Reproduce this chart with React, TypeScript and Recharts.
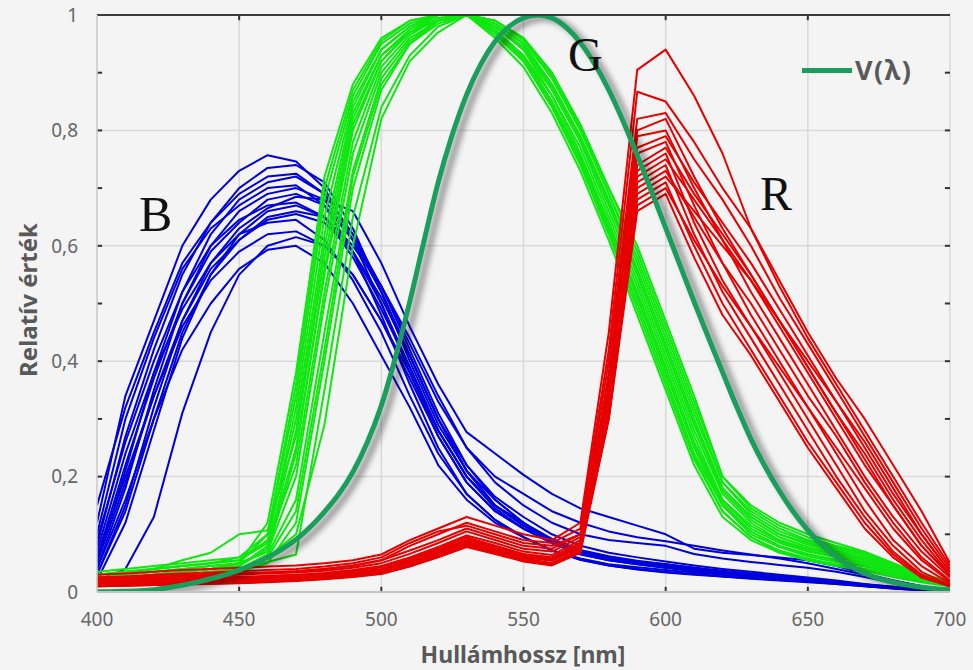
import React from 'react';
import { LineChart, Line, XAxis, YAxis, CartesianGrid, ReferenceLine } from 'recharts';

const WL = [400,410,420,430,440,450,460,470,480,490,500,510,520,530,540,550,560,570,580,590,600,610,620,630,640,650,660,670,680,690,700];

const V_WL = [400,405,410,415,420,425,430,435,440,445,450,455,460,465,470,475,480,485,490,495,500,505,510,515,520,525,530,535,540,545,550,555,560,565,570,575,580,585,590,595,600,605,610,615,620,625,630,635,640,645,650,655,660,665,670,675,680,685,690,695,700];
const V_LAMBDA = [0.0004,0.00064,0.0012,0.00218,0.004,0.0073,0.0116,0.01684,0.023,0.0298,0.038,0.048,0.06,0.0739,0.09098,0.1126,0.13902,0.1693,0.20802,0.2586,0.323,0.4073,0.503,0.6082,0.71,0.7932,0.862,0.91485,0.954,0.9803,0.99495,1.0,0.995,0.9786,0.952,0.9154,0.87,0.8163,0.757,0.6949,0.631,0.5668,0.503,0.4412,0.381,0.321,0.265,0.217,0.175,0.1382,0.107,0.0816,0.061,0.04458,0.032,0.0232,0.017,0.01192,0.00821,0.005723,0.004102];

const BLUE: number[][] = [
  [0.12,0.34,0.47,0.60,0.68,0.73,0.757,0.746,0.70,0.61,0.50,0.38,0.27,0.19,0.14,0.11,0.085,0.068,0.057,0.05,0.045,0.04,0.035,0.03,0.026,0.022,0.017,0.012,0.008,0.005,0.003],
  [0.08,0.27,0.42,0.55,0.64,0.70,0.735,0.74,0.71,0.63,0.52,0.40,0.29,0.21,0.15,0.12,0.09,0.07,0.06,0.052,0.046,0.04,0.036,0.031,0.027,0.023,0.018,0.013,0.009,0.005,0.003],
  [0.05,0.21,0.38,0.52,0.62,0.68,0.71,0.72,0.69,0.62,0.53,0.42,0.31,0.22,0.16,0.12,0.09,0.07,0.06,0.05,0.045,0.04,0.035,0.03,0.026,0.022,0.017,0.012,0.008,0.004,0.003],
  [0.10,0.30,0.44,0.56,0.63,0.67,0.70,0.705,0.67,0.59,0.48,0.36,0.25,0.17,0.125,0.095,0.072,0.058,0.048,0.043,0.038,0.034,0.03,0.026,0.022,0.019,0.015,0.011,0.007,0.004,0.002],
  [0.04,0.18,0.35,0.50,0.60,0.66,0.69,0.70,0.68,0.61,0.52,0.41,0.30,0.21,0.15,0.115,0.085,0.065,0.055,0.048,0.042,0.037,0.032,0.028,0.024,0.02,0.016,0.011,0.007,0.004,0.002],
  [0.06,0.22,0.37,0.50,0.59,0.64,0.68,0.69,0.67,0.61,0.53,0.43,0.33,0.25,0.20,0.17,0.14,0.12,0.105,0.095,0.088,0.08,0.072,0.065,0.058,0.05,0.04,0.03,0.02,0.01,0.004],
  [0.03,0.15,0.32,0.47,0.57,0.63,0.665,0.685,0.68,0.66,0.57,0.46,0.36,0.277,0.24,0.203,0.17,0.145,0.13,0.115,0.10,0.075,0.068,0.064,0.06,0.055,0.045,0.032,0.02,0.01,0.004],
  [0.09,0.26,0.40,0.52,0.60,0.645,0.67,0.675,0.65,0.58,0.49,0.39,0.28,0.20,0.15,0.115,0.09,0.072,0.06,0.053,0.048,0.042,0.037,0.032,0.027,0.023,0.018,0.013,0.008,0.004,0.002],
  [0.03,0.14,0.30,0.45,0.55,0.61,0.645,0.655,0.64,0.59,0.51,0.41,0.30,0.21,0.16,0.12,0.092,0.073,0.062,0.054,0.048,0.042,0.036,0.031,0.027,0.023,0.018,0.012,0.008,0.004,0.002],
  [0.07,0.24,0.38,0.49,0.57,0.62,0.64,0.645,0.61,0.54,0.45,0.34,0.24,0.17,0.125,0.095,0.072,0.056,0.046,0.039,0.034,0.03,0.027,0.023,0.02,0.017,0.014,0.01,0.006,0.003,0.002],
  [0.05,0.19,0.34,0.46,0.54,0.59,0.62,0.625,0.60,0.55,0.47,0.38,0.28,0.20,0.15,0.115,0.09,0.07,0.058,0.05,0.044,0.038,0.033,0.028,0.024,0.02,0.016,0.011,0.007,0.004,0.002],
  [0.04,0.16,0.30,0.42,0.50,0.56,0.593,0.60,0.57,0.50,0.41,0.32,0.22,0.16,0.12,0.095,0.072,0.056,0.046,0.04,0.035,0.031,0.027,0.024,0.021,0.018,0.014,0.01,0.006,0.003,0.002],
  [0.02,0.04,0.13,0.31,0.45,0.55,0.60,0.615,0.60,0.55,0.47,0.37,0.27,0.19,0.14,0.11,0.085,0.066,0.055,0.048,0.042,0.037,0.032,0.028,0.024,0.02,0.016,0.011,0.007,0.004,0.002],
  [0.15,0.32,0.45,0.57,0.64,0.69,0.72,0.725,0.69,0.62,0.52,0.41,0.30,0.22,0.165,0.13,0.1,0.08,0.068,0.06,0.053,0.046,0.04,0.035,0.03,0.025,0.02,0.014,0.009,0.005,0.003],
  [0.02,0.12,0.28,0.44,0.55,0.62,0.66,0.67,0.65,0.59,0.50,0.39,0.28,0.20,0.145,0.11,0.085,0.068,0.056,0.049,0.043,0.037,0.032,0.028,0.024,0.02,0.016,0.011,0.007,0.004,0.002],
  [0.06,0.20,0.34,0.47,0.56,0.61,0.65,0.66,0.65,0.60,0.53,0.44,0.34,0.25,0.19,0.15,0.12,0.10,0.09,0.085,0.08,0.066,0.058,0.052,0.047,0.042,0.035,0.026,0.016,0.008,0.003],
];

const GREEN: number[][] = [
  [0.02,0.025,0.03,0.035,0.04,0.05,0.12,0.38,0.72,0.88,0.96,0.99,1.0,1.0,0.97,0.92,0.84,0.74,0.62,0.49,0.36,0.23,0.14,0.095,0.07,0.055,0.045,0.037,0.026,0.017,0.01],
  [0.03,0.035,0.04,0.045,0.05,0.055,0.09,0.30,0.62,0.84,0.94,0.98,1.0,1.0,0.98,0.94,0.87,0.78,0.66,0.54,0.41,0.28,0.17,0.12,0.09,0.075,0.065,0.055,0.04,0.025,0.015],
  [0.01,0.015,0.02,0.025,0.03,0.035,0.06,0.10,0.29,0.60,0.82,0.92,0.97,1.0,0.99,0.96,0.90,0.81,0.70,0.60,0.47,0.34,0.20,0.15,0.12,0.10,0.085,0.07,0.05,0.03,0.02],
  [0.02,0.03,0.04,0.055,0.068,0.10,0.107,0.27,0.58,0.82,0.93,0.97,0.99,1.0,0.97,0.93,0.86,0.76,0.64,0.52,0.39,0.26,0.16,0.11,0.085,0.07,0.06,0.05,0.035,0.022,0.013],
  [0.015,0.02,0.025,0.03,0.035,0.04,0.052,0.065,0.35,0.65,0.84,0.93,0.98,1.0,0.985,0.95,0.88,0.79,0.68,0.56,0.43,0.30,0.18,0.13,0.1,0.085,0.072,0.06,0.045,0.028,0.016],
  [0.02,0.025,0.03,0.035,0.04,0.045,0.08,0.25,0.55,0.80,0.92,0.97,1.0,1.0,0.96,0.91,0.83,0.73,0.61,0.48,0.35,0.22,0.13,0.09,0.068,0.055,0.047,0.04,0.03,0.02,0.012],
  [0.025,0.03,0.035,0.04,0.045,0.05,0.07,0.20,0.50,0.76,0.90,0.96,0.99,1.0,0.98,0.94,0.86,0.77,0.65,0.53,0.40,0.27,0.16,0.115,0.088,0.072,0.062,0.052,0.038,0.024,0.014],
  [0.03,0.035,0.04,0.045,0.05,0.06,0.10,0.34,0.68,0.86,0.95,0.985,1.0,1.0,0.975,0.93,0.85,0.75,0.63,0.50,0.37,0.24,0.15,0.10,0.078,0.062,0.052,0.044,0.032,0.02,0.012],
  [0.01,0.015,0.02,0.025,0.03,0.035,0.05,0.12,0.40,0.70,0.87,0.95,0.99,1.0,0.99,0.955,0.89,0.80,0.69,0.58,0.45,0.32,0.19,0.14,0.11,0.09,0.078,0.065,0.048,0.03,0.018],
  [0.02,0.025,0.03,0.035,0.04,0.045,0.075,0.28,0.60,0.83,0.93,0.975,1.0,1.0,0.965,0.92,0.845,0.75,0.64,0.51,0.38,0.25,0.15,0.105,0.08,0.066,0.056,0.047,0.034,0.021,0.012],
  [0.035,0.04,0.045,0.05,0.055,0.06,0.085,0.22,0.52,0.78,0.91,0.965,0.995,1.0,0.98,0.945,0.875,0.785,0.67,0.55,0.42,0.29,0.175,0.125,0.095,0.078,0.067,0.056,0.041,0.026,0.015],
  [0.015,0.02,0.025,0.03,0.035,0.04,0.065,0.16,0.45,0.73,0.89,0.955,0.99,1.0,0.99,0.96,0.895,0.805,0.69,0.57,0.44,0.31,0.19,0.135,0.105,0.088,0.075,0.063,0.046,0.029,0.017],
  [0.02,0.025,0.03,0.035,0.04,0.05,0.10,0.36,0.70,0.87,0.955,0.99,1.0,1.0,0.975,0.925,0.845,0.745,0.625,0.5,0.37,0.235,0.14,0.095,0.072,0.058,0.048,0.04,0.029,0.018,0.011],
  [0.025,0.03,0.035,0.04,0.045,0.05,0.07,0.24,0.56,0.81,0.92,0.97,0.995,1.0,0.985,0.95,0.88,0.79,0.675,0.555,0.425,0.295,0.18,0.13,0.1,0.082,0.07,0.058,0.043,0.027,0.016],
  [0.01,0.015,0.02,0.025,0.03,0.04,0.06,0.14,0.42,0.72,0.88,0.95,0.985,1.0,0.99,0.96,0.9,0.81,0.7,0.59,0.46,0.33,0.2,0.145,0.115,0.095,0.08,0.068,0.05,0.03,0.019],
  [0.03,0.035,0.04,0.045,0.05,0.055,0.085,0.32,0.65,0.85,0.94,0.98,1.0,1.0,0.97,0.925,0.85,0.755,0.635,0.515,0.385,0.255,0.155,0.105,0.08,0.065,0.055,0.046,0.033,0.021,0.012],
];

const RED: number[][] = [
  [0.03,0.032,0.035,0.038,0.04,0.042,0.044,0.046,0.05,0.055,0.065,0.09,0.11,0.13,0.115,0.1,0.09,0.12,0.45,0.905,0.94,0.86,0.76,0.63,0.53,0.44,0.36,0.28,0.2,0.12,0.045],
  [0.02,0.022,0.025,0.028,0.03,0.032,0.034,0.036,0.04,0.046,0.055,0.08,0.1,0.12,0.105,0.09,0.085,0.11,0.42,0.867,0.85,0.78,0.70,0.63,0.54,0.45,0.37,0.3,0.22,0.14,0.05],
  [0.025,0.027,0.03,0.032,0.034,0.036,0.038,0.04,0.044,0.05,0.06,0.085,0.105,0.115,0.1,0.085,0.08,0.1,0.4,0.82,0.83,0.75,0.68,0.6,0.51,0.43,0.35,0.27,0.19,0.11,0.04],
  [0.015,0.016,0.018,0.02,0.021,0.022,0.024,0.026,0.03,0.034,0.04,0.055,0.075,0.095,0.08,0.065,0.06,0.085,0.38,0.80,0.82,0.72,0.63,0.55,0.47,0.39,0.31,0.23,0.15,0.08,0.03],
  [0.01,0.012,0.014,0.016,0.017,0.018,0.02,0.022,0.025,0.03,0.036,0.05,0.068,0.088,0.075,0.06,0.055,0.08,0.36,0.79,0.80,0.70,0.61,0.52,0.44,0.36,0.28,0.2,0.13,0.07,0.025],
  [0.02,0.021,0.022,0.024,0.025,0.026,0.028,0.03,0.033,0.038,0.045,0.06,0.078,0.098,0.085,0.07,0.064,0.09,0.37,0.77,0.79,0.71,0.64,0.57,0.49,0.41,0.33,0.26,0.18,0.1,0.035],
  [0.012,0.013,0.015,0.017,0.018,0.019,0.021,0.023,0.026,0.03,0.035,0.048,0.065,0.085,0.072,0.058,0.05,0.075,0.34,0.76,0.78,0.67,0.57,0.48,0.4,0.32,0.24,0.16,0.09,0.045,0.015],
  [0.018,0.019,0.02,0.022,0.023,0.024,0.026,0.028,0.031,0.035,0.04,0.054,0.072,0.09,0.078,0.064,0.058,0.082,0.35,0.74,0.77,0.69,0.62,0.55,0.47,0.39,0.31,0.24,0.16,0.09,0.03],
  [0.01,0.011,0.012,0.014,0.015,0.016,0.018,0.02,0.023,0.027,0.032,0.045,0.062,0.08,0.068,0.055,0.048,0.07,0.32,0.73,0.76,0.64,0.54,0.46,0.38,0.3,0.22,0.14,0.08,0.035,0.012],
  [0.022,0.023,0.025,0.027,0.028,0.03,0.032,0.034,0.037,0.042,0.05,0.066,0.085,0.105,0.09,0.075,0.07,0.095,0.36,0.72,0.75,0.68,0.61,0.54,0.46,0.38,0.3,0.22,0.15,0.08,0.028],
  [0.015,0.016,0.017,0.019,0.02,0.021,0.023,0.025,0.028,0.032,0.038,0.052,0.07,0.088,0.075,0.062,0.056,0.08,0.33,0.71,0.74,0.62,0.52,0.44,0.36,0.28,0.2,0.13,0.07,0.03,0.01],
  [0.012,0.013,0.014,0.016,0.017,0.018,0.02,0.022,0.025,0.029,0.034,0.047,0.064,0.082,0.07,0.057,0.05,0.072,0.31,0.70,0.73,0.65,0.57,0.5,0.42,0.34,0.27,0.19,0.12,0.06,0.02],
  [0.025,0.026,0.028,0.03,0.031,0.032,0.034,0.036,0.04,0.045,0.055,0.072,0.09,0.11,0.095,0.08,0.075,0.1,0.35,0.69,0.72,0.66,0.6,0.54,0.47,0.4,0.33,0.25,0.17,0.1,0.035],
  [0.01,0.011,0.012,0.013,0.014,0.015,0.017,0.019,0.022,0.026,0.031,0.044,0.06,0.078,0.066,0.053,0.046,0.068,0.3,0.68,0.71,0.6,0.5,0.42,0.34,0.26,0.19,0.12,0.065,0.028,0.01],
  [0.018,0.019,0.021,0.023,0.024,0.025,0.027,0.029,0.032,0.037,0.043,0.058,0.075,0.093,0.08,0.066,0.06,0.085,0.32,0.67,0.70,0.61,0.53,0.46,0.39,0.32,0.25,0.18,0.11,0.055,0.018],
  [0.014,0.015,0.016,0.018,0.019,0.02,0.022,0.024,0.027,0.031,0.037,0.05,0.067,0.085,0.072,0.06,0.054,0.078,0.3,0.66,0.69,0.58,0.48,0.41,0.33,0.25,0.18,0.11,0.06,0.025,0.01],
];

const X_TICKS = [400, 450, 500, 550, 600, 650, 700];
const X_INNER_TICKS = [450, 500, 550, 600, 650];
const Y_TICKS = [0, 0.2, 0.4, 0.6, 0.8, 1];
const Y_INNER_TICKS = [0.1, 0.2, 0.3, 0.4, 0.5, 0.6, 0.7, 0.8, 0.9];

const toPts = (xs: number[], ys: number[]) => xs.map((x, i) => ({ x, y: ys[i] }));

const BLUE_C = '#0000dc';
const GREEN_C = '#10e610';
const RED_C = '#e60000';
const V_C = '#1a9e5c';
const TXT = '#666666';
const FONT = '"Noto Sans", "Open Sans", sans-serif';
const SERIF = '"Liberation Serif", "DejaVu Serif", serif';
const MARK = '#333333';
// tick-mark lengths in axis units (about 5 px)
const XMARK = 1.8;
const YMARK = 0.009;

export default function App() {
  const vPts = toPts(V_WL, V_LAMBDA);
  return (
    <div style={{ position: 'fixed', left: 0, top: 0, width: 973, height: 670, background: '#f4f4f4', fontFamily: FONT, overflow: 'hidden' }}>
      <style>{`.vline path, path.recharts-line-curve[stroke="${V_C}"] { filter: drop-shadow(6px 3px 3px rgba(0,0,0,0.5)); }`}</style>
      <LineChart width={973} height={670} margin={{ top: 15, right: 23, bottom: 48, left: 0 }}>
        <CartesianGrid stroke="#d9d9d9" strokeWidth={1.5} />
        <XAxis dataKey="x" type="number" domain={[400, 700]} ticks={X_TICKS} allowDataOverflow
          axisLine={{ stroke: '#c4c4c4', strokeWidth: 2 }} tickLine={false}
          tick={{ fill: TXT, fontSize: 19, fontFamily: FONT }} tickMargin={15} height={30} />
        <XAxis xAxisId="top" orientation="top" mirror dataKey="x" type="number" domain={[400, 700]} ticks={X_INNER_TICKS} allowDataOverflow
          height={1} tick={false} tickLine={false} axisLine={{ stroke: '#3a3a3a', strokeWidth: 2 }} />
        <YAxis type="number" domain={[0, 1]} ticks={Y_TICKS} allowDataOverflow width={97}
          axisLine={{ stroke: '#cfcfcf', strokeWidth: 1.5 }} tickLine={false}
          tick={{ fill: TXT, fontSize: 19, fontFamily: FONT }} tickMargin={13}
          tickFormatter={(v: number) => String(v).replace('.', ',')} />

        {Y_INNER_TICKS.map((v) => (
          <ReferenceLine key={'yl' + v} segment={[{ x: 400, y: v }, { x: 400 + XMARK, y: v }]} stroke={MARK} strokeWidth={2} />
        ))}
        {Y_INNER_TICKS.map((v) => (
          <ReferenceLine key={'yr' + v} segment={[{ x: 700 - XMARK, y: v }, { x: 700, y: v }]} stroke={MARK} strokeWidth={2} />
        ))}
        {X_INNER_TICKS.map((t) => (
          <ReferenceLine key={'xt' + t} segment={[{ x: t, y: 1 }, { x: t, y: 1 - YMARK }]} stroke={MARK} strokeWidth={2} />
        ))}
        {X_INNER_TICKS.map((t) => (
          <ReferenceLine key={'xb' + t} segment={[{ x: t, y: 0 }, { x: t, y: YMARK }]} stroke={MARK} strokeWidth={2} />
        ))}

        {BLUE.map((s, i) => (
          <Line key={'b' + i} data={toPts(WL, s)} dataKey="y" stroke={BLUE_C} strokeWidth={2} dot={false} isAnimationActive={false} strokeLinejoin="round" />
        ))}
        {GREEN.map((s, i) => (
          <Line key={'g' + i} data={toPts(WL, s)} dataKey="y" stroke={GREEN_C} strokeWidth={2} dot={false} isAnimationActive={false} strokeLinejoin="round" />
        ))}
        {RED.map((s, i) => (
          <Line key={'r' + i} data={toPts(WL, s)} dataKey="y" stroke={RED_C} strokeWidth={2} dot={false} isAnimationActive={false} strokeLinejoin="round" />
        ))}
        <Line className="vline" data={vPts} dataKey="y" stroke={V_C} strokeWidth={5} dot={false} isAnimationActive={false}
          type="monotone" />
      </LineChart>

      <div style={{ position: 'absolute', left: 27, top: 300, transform: 'translate(-50%, -50%) rotate(-90deg)', whiteSpace: 'nowrap', fontWeight: 700, fontSize: 24, color: '#595959' }}>Relatív érték</div>
      <div style={{ position: 'absolute', left: 523, top: 642, transform: 'translateX(-50%)', whiteSpace: 'nowrap', fontWeight: 700, fontSize: 23, lineHeight: '24px', color: '#595959' }}>Hullámhossz [nm]</div>

      <div style={{ position: 'absolute', left: 139, top: 184, fontFamily: SERIF, fontSize: 50, lineHeight: '60px', color: '#111' }}>B</div>
      <div style={{ position: 'absolute', left: 568, top: 26, fontFamily: SERIF, fontSize: 48, lineHeight: '58px', color: '#111' }}>G</div>
      <div style={{ position: 'absolute', left: 760, top: 165, fontFamily: SERIF, fontSize: 48, lineHeight: '58px', color: '#111' }}>R</div>

      <div style={{ position: 'absolute', left: 802, top: 68, width: 50, height: 5, background: V_C }} />
      <div style={{ position: 'absolute', left: 855, top: 52, fontWeight: 700, fontSize: 27, lineHeight: '36px', letterSpacing: 1.5, color: '#595959', whiteSpace: 'nowrap' }}>V(λ)</div>
    </div>
  );
}
